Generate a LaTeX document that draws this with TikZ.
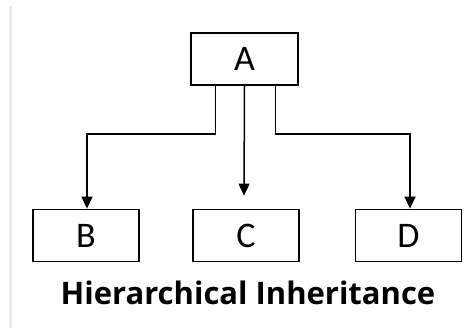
\documentclass[tikz,border=0pt]{standalone}
\usepackage{fontspec}
\setmainfont{Carlito}
\newfontfamily\titlefont{Open Sans}
\usepackage{tikz}
\usetikzlibrary{arrows.meta,positioning}
\definecolor{hgray}{HTML}{ECECEC}

\tikzset{
    classbox/.style={draw, line width=1.8pt, minimum width=106pt, minimum height=52pt, font=\fontsize{36}{36}\selectfont},
    inherit/.style={line width=1.5pt, -{Triangle[width=11pt,length=12pt]}}
}

\begin{document}
\begin{tikzpicture}[x=1pt,y=1pt]
    \useasboundingbox (0,0) rectangle (473,329);
    % grey rule on the left
    \draw[hgray, line width=3pt] (10,1) -- (10,323);

    % classes
    \node[classbox, minimum width=107pt] (A) at (244.5,270) {A};
    \node[classbox] (B) at (86,93.5) {B};
    \node[classbox] (C) at (246,93.5) {C};
    \node[classbox] (D) at (408.5,93.5) {D};

    % arrows from the base class
    \draw[inherit] ([xshift=-29pt]A.south) -- ++(0,-48) -| ([xshift=1pt]B.north);
    \draw[inherit] (A.south) -- ([xshift=-2pt,yshift=13pt]C.north);
    \draw[inherit] ([xshift=31pt]A.south) -- ++(0,-48) -| ([xshift=1.5pt]D.north);

    % caption
    \node[font=\titlefont\bfseries\fontsize{31}{31}\selectfont] (title) at (248,36) {Hierarchical Inheritance};
\end{tikzpicture}
\end{document}
